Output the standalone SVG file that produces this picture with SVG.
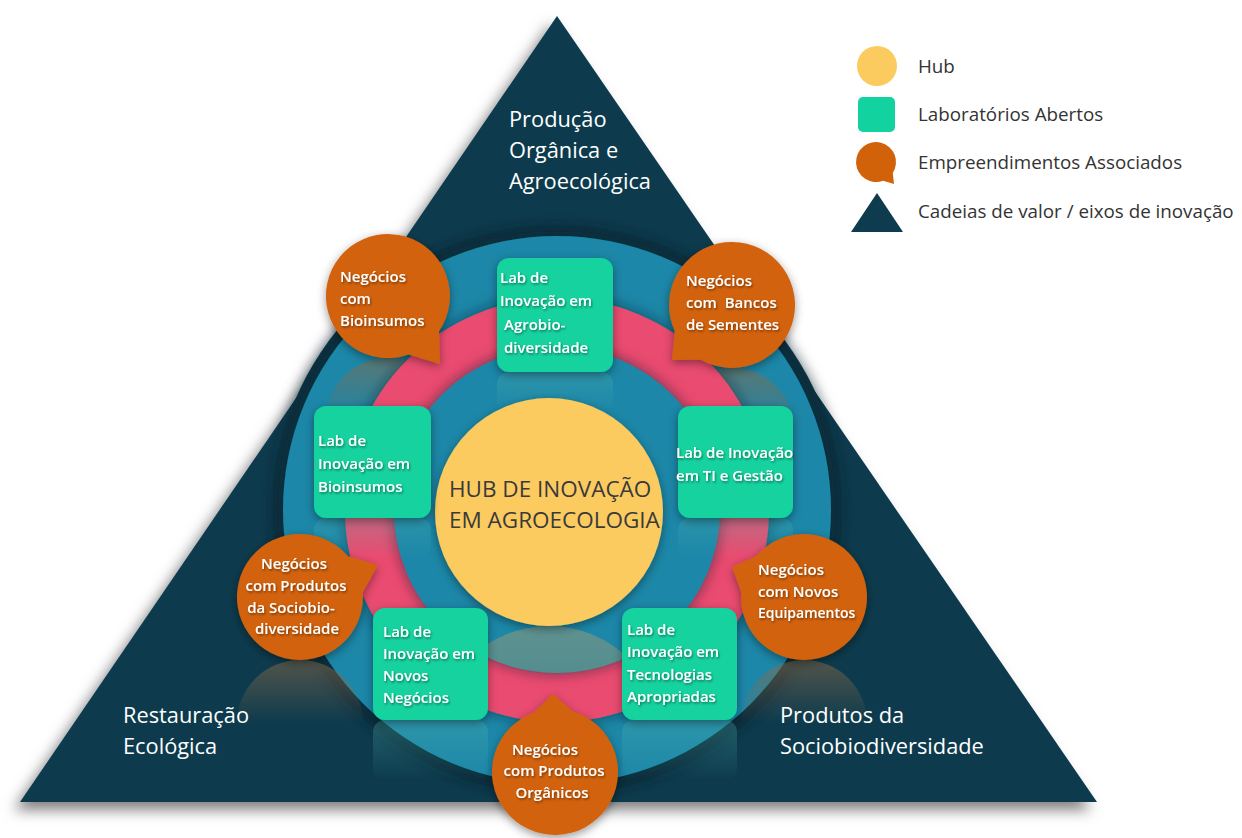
<svg xmlns="http://www.w3.org/2000/svg" width="1242" height="838" viewBox="0 0 1242 838">
<defs>
<style>
.tri{fill:#0e3b4e}
.lab{fill:#12d29f}
.bub{fill:#d2620a}
.ltxt{font-family:"Open Sans","Liberation Sans",sans-serif;font-size:15px;font-weight:600;fill:#ffffff}
.btxt{font-family:"Open Sans","Liberation Sans",sans-serif;font-size:15px;font-weight:600;fill:#ffffff}
.axis{font-family:"Open Sans","Liberation Sans",sans-serif;font-size:21.8px;fill:#ffffff}
.hub{font-family:"Open Sans","Liberation Sans",sans-serif;font-size:22.5px;fill:#3a3a3a}
.leg{font-family:"Open Sans","Liberation Sans",sans-serif;font-size:18.8px;fill:#333333}
</style>
<filter id="triShadow" x="-10%" y="-10%" width="120%" height="125%">
<feDropShadow dx="-6" dy="8" stdDeviation="7" flood-color="#000" flood-opacity="0.5"/>
</filter>
<filter id="soft" x="-20%" y="-20%" width="140%" height="140%">
<feDropShadow dx="0" dy="3" stdDeviation="5" flood-color="#000" flood-opacity="0.4"/>
</filter>
<filter id="ringShadow" x="-20%" y="-20%" width="140%" height="140%">
<feDropShadow dx="0" dy="0" stdDeviation="7" flood-color="#04202c" flood-opacity="0.6"/>
</filter>
<filter id="txtShadow" x="-10%" y="-10%" width="120%" height="130%">
<feDropShadow dx="1" dy="1.5" stdDeviation="1" flood-color="#000" flood-opacity="0.45"/>
</filter>
<linearGradient id="reflOrange" x1="0" y1="0" x2="0" y2="1">
<stop offset="0" stop-color="#8a6a4a" stop-opacity="0.55"/>
<stop offset="0.5" stop-color="#8a6a4a" stop-opacity="0"/>
</linearGradient>
<linearGradient id="reflGreen" x1="0" y1="0" x2="0" y2="1">
<stop offset="0" stop-color="#4fb5b0" stop-opacity="0.55"/>
<stop offset="1" stop-color="#4fb5b0" stop-opacity="0"/>
</linearGradient>
<linearGradient id="lensGrad" x1="0" y1="0" x2="0" y2="1">
<stop offset="0" stop-color="#5f9290"/>
<stop offset="1" stop-color="#2d7b88"/>
</linearGradient>
<clipPath id="innerClip"><circle cx="557" cy="510" r="163"/></clipPath>
</defs>

<g id="axes-triangle">
<polygon class="tri" points="557,16 1097,802 20,802" filter="url(#triShadow)"/>
</g>

<g id="rings">
<circle cx="557" cy="510" r="284" fill="#0a3040" filter="url(#ringShadow)"/>
<circle cx="557" cy="510" r="274" fill="#1a87a8" filter="url(#ringShadow)"/>
<circle cx="388" cy="420" r="62" fill="url(#reflOrange)"/>
<circle cx="732" cy="431" r="63" fill="url(#reflOrange)"/>
<circle cx="557" cy="510" r="212" fill="#ea4b70" filter="url(#ringShadow)"/>
<circle cx="557" cy="510" r="163" fill="#1a87a8" filter="url(#ringShadow)"/>
<circle cx="549" cy="740" r="114" fill="url(#lensGrad)" clip-path="url(#innerClip)"/>
<circle cx="300" cy="723" r="63" fill="url(#reflOrange)"/>
<circle cx="804" cy="723" r="63" fill="url(#reflOrange)"/>
<rect x="497" y="372" width="116" height="40" rx="12" fill="url(#reflGreen)" opacity="0.6"/>
<rect x="314" y="518" width="117" height="40" rx="12" fill="url(#reflGreen)" opacity="0.5"/>
<rect x="678" y="518" width="115" height="40" rx="12" fill="url(#reflGreen)" opacity="0.5"/>
<rect x="373" y="720" width="115" height="60" rx="12" fill="url(#reflGreen)" opacity="0.6"/>
<rect x="622" y="720" width="115" height="60" rx="12" fill="url(#reflGreen)" opacity="0.6"/>
</g>

<g id="hub">
<circle cx="549" cy="512" r="114" fill="#fccb60" filter="url(#soft)"/>
<text class="hub" x="449" y="497">HUB DE INOVAÇÃO</text>
<text class="hub" x="449" y="528">EM AGROECOLOGIA</text>
</g>

<g id="lab-agrobiodiversidade">
<rect class="lab" x="497" y="258" width="116" height="114" rx="12" filter="url(#soft)"/>
<g filter="url(#txtShadow)">
<text class="ltxt" x="500" y="283">Lab de</text>
<text class="ltxt" x="500" y="306">Inovação em</text>
<text class="ltxt" x="504" y="330">Agrobio-</text>
<text class="ltxt" x="504" y="353">diversidade</text>
</g>
</g>

<g id="lab-bioinsumos">
<rect class="lab" x="314" y="406" width="117" height="112" rx="12" filter="url(#soft)"/>
<g filter="url(#txtShadow)">
<text class="ltxt" x="318" y="446">Lab de</text>
<text class="ltxt" x="318" y="469">Inovação em</text>
<text class="ltxt" x="318" y="492">Bioinsumos</text>
</g>
</g>

<g id="lab-ti-gestao">
<rect class="lab" x="678" y="406" width="115" height="112" rx="12" filter="url(#soft)"/>
<g filter="url(#txtShadow)">
<text class="ltxt" x="676" y="458">Lab de Inovação</text>
<text class="ltxt" x="676" y="481">em TI e Gestão</text>
</g>
</g>

<g id="lab-novos-negocios">
<rect class="lab" x="373" y="608" width="115" height="112" rx="12" filter="url(#soft)"/>
<g filter="url(#txtShadow)">
<text class="ltxt" x="383" y="637">Lab de</text>
<text class="ltxt" x="383" y="659">Inovação em</text>
<text class="ltxt" x="383" y="681">Novos</text>
<text class="ltxt" x="383" y="703">Negócios</text>
</g>
</g>

<g id="lab-tecnologias-apropriadas">
<rect class="lab" x="622" y="608" width="115" height="112" rx="12" filter="url(#soft)"/>
<g filter="url(#txtShadow)">
<text class="ltxt" x="627" y="635">Lab de</text>
<text class="ltxt" x="627" y="657">Inovação em</text>
<text class="ltxt" x="627" y="680">Tecnologias</text>
<text class="ltxt" x="627" y="702">Apropriadas</text>
</g>
</g>

<g id="bubble-bioinsumos">
<path class="bub" d="M408.6,354.5 A62,62 0 1,1 439,331.2 L440,364 Z" filter="url(#soft)"/>
<g filter="url(#txtShadow)">
<text class="btxt" x="340" y="282">Negócios</text>
<text class="btxt" x="340" y="304">com</text>
<text class="btxt" x="340" y="326">Bioinsumos</text>
</g>
</g>

<g id="bubble-bancos-sementes">
<path class="bub" d="M674.7,331.1 A63,63 0 1,1 701,359.8 L672,360 Z" filter="url(#soft)"/>
<g filter="url(#txtShadow)">
<text class="btxt" x="686" y="286">Negócios</text>
<text class="btxt" x="686" y="308" xml:space="preserve">com  Bancos</text>
<text class="btxt" x="686" y="330">de Sementes</text>
</g>
</g>

<g id="bubble-sociobiodiversidade">
<path class="bub" d="M362.8,592.3 A63,63 0 1,1 348.1,556.3 L378,565 Z" filter="url(#soft)"/>
<g filter="url(#txtShadow)" text-anchor="middle">
<text class="btxt" x="294" y="569">Negócios</text>
<text class="btxt" x="296" y="591">com Produtos</text>
<text class="btxt" x="291" y="613">da Sociobio-</text>
<text class="btxt" x="297" y="634">diversidade</text>
</g>
</g>

<g id="bubble-novos-equipamentos">
<path class="bub" d="M756.2,556 A63,63 0 1,1 741.2,591.9 L732,567 Z" filter="url(#soft)"/>
<g filter="url(#txtShadow)">
<text class="btxt" x="758" y="575">Negócios</text>
<text class="btxt" x="758" y="597">com Novos</text>
<text class="btxt" x="758" y="618" style="font-size:14px">Equipamentos</text>
</g>
</g>

<g id="bubble-produtos-organicos">
<path class="bub" d="M572.9,711.6 A63,63 0 1,1 534,712.6 L553,694 Z" filter="url(#soft)"/>
<g filter="url(#txtShadow)" text-anchor="middle">
<text class="btxt" x="545" y="755">Negócios</text>
<text class="btxt" x="554" y="776">com Produtos</text>
<text class="btxt" x="552" y="798">Orgânicos</text>
</g>
</g>

<g id="axis-labels">
<text class="axis" x="509" y="127">Produção</text>
<text class="axis" x="509" y="158">Orgânica e</text>
<text class="axis" x="509" y="189">Agroecológica</text>
<text class="axis" x="123" y="723">Restauração</text>
<text class="axis" x="123" y="754">Ecológica</text>
<text class="axis" x="780" y="723">Produtos da</text>
<text class="axis" x="780" y="754">Sociobiodiversidade</text>
</g>

<g id="legend">
<circle cx="877" cy="66" r="20" fill="#fccb60"/>
<rect x="858" y="97" width="37" height="35" rx="5" fill="#12d29f"/>
<path d="M883.2,180.7 A20,20 0 1,1 892.8,172.9 L894,184 Z" fill="#d2620a"/>
<polygon points="877,193 903,232 851,232" fill="#0e3b4e"/>
<text class="leg" x="918" y="73">Hub</text>
<text class="leg" x="918" y="121">Laboratórios Abertos</text>
<text class="leg" x="918" y="169">Empreendimentos Associados</text>
<text class="leg" x="918" y="218">Cadeias de valor / eixos de inovação</text>
</g>
</svg>
